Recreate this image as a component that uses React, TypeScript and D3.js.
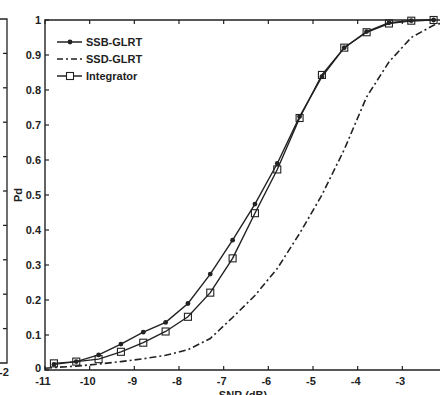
import React, { useRef, useEffect } from 'react';
import * as d3 from 'd3';

// SNR grid (dB) for the simulated points
const snr = [-10.8, -10.3, -9.8, -9.3, -8.8, -8.3, -7.8, -7.3, -6.8, -6.3, -5.8, -5.3, -4.8, -4.3, -3.8, -3.3, -2.8, -2.3];

const ssbGlrt = [0.016, 0.024, 0.043, 0.074, 0.108, 0.136, 0.19, 0.274, 0.371, 0.474, 0.59, 0.724, 0.838, 0.921, 0.967, 0.992, 0.998, 1.0];
const integrator = [0.019, 0.024, 0.031, 0.052, 0.078, 0.11, 0.152, 0.221, 0.319, 0.448, 0.573, 0.72, 0.843, 0.921, 0.965, 0.99, 0.998, 1.0];

const ssdSnr = [-11, -10.8, -10.3, -9.8, -9.3, -8.8, -8.3, -7.8, -7.3, -6.8, -6.3, -5.8, -5.3, -4.8, -4.3, -3.8, -3.3, -2.8, -2.3, -2.0];
const ssdGlrt = [0.005, 0.007, 0.011, 0.017, 0.024, 0.032, 0.042, 0.058, 0.09, 0.15, 0.213, 0.29, 0.39, 0.5, 0.63, 0.78, 0.88, 0.95, 0.985, 0.995];

const xTicks = [-11, -10, -9, -8, -7, -6, -5, -4, -3, -2];
const xLabels = [-11, -10, -9, -8, -7, -6, -5, -4, -3]; // -2 falls outside the crop
const yTicks = [0, 0.1, 0.2, 0.3, 0.4, 0.5, 0.6, 0.7, 0.8, 0.9, 1];
const legendNames = ['SSB-GLRT', 'SSD-GLRT', 'Integrator'];

const FONT = '"Liberation Sans", Arial, sans-serif';

export default function App() {
  const ref = useRef<SVGSVGElement>(null);

  useEffect(() => {
    const svg = d3.select(ref.current);
    svg.selectAll('*').remove();

    const width = 440, height = 395;
    const left = 45, top = 20, bottom = 370, right = 447;

    const x = d3.scaleLinear().domain([-11, -2]).range([left, right]);
    const y = d3.scaleLinear().domain([0, 1]).range([bottom, top]);

    svg.append('rect').attr('width', width).attr('height', height).attr('fill', '#fff');

    // neighbouring plot edge at far left (cropped)
    const yl = d3.scaleLinear().domain([0, 1]).range([363, 19]);
    const lp = svg.append('g').attr('stroke', '#222').attr('stroke-width', 1.3).attr('fill', 'none');
    lp.append('path').attr('d', `M0,${yl(1)}H7V${yl(0)}H0`);
    yTicks.slice(1, -1).forEach(t => {
      lp.append('line').attr('x1', 3).attr('x2', 7).attr('y1', yl(t)).attr('y2', yl(t));
    });
    svg.append('text').attr('x', 4).attr('y', 376).attr('text-anchor', 'middle')
      .attr('font-family', FONT).attr('font-size', 11).attr('font-weight', 'bold').attr('fill', '#222')
      .text('-2');

    // axes frame
    const frame = svg.append('g').attr('stroke', '#222').attr('stroke-width', 1.4).attr('fill', 'none');
    frame.append('path').attr('d', `M${right},${top}H${left}V${bottom}H${right}`);

    // ticks (inward)
    const tk = svg.append('g').attr('stroke', '#222').attr('stroke-width', 1.2);
    xTicks.forEach(t => {
      tk.append('line').attr('x1', x(t)).attr('x2', x(t)).attr('y1', bottom).attr('y2', bottom - 4);
      tk.append('line').attr('x1', x(t)).attr('x2', x(t)).attr('y1', top).attr('y2', top + 4);
    });
    yTicks.forEach(t => {
      tk.append('line').attr('x1', left).attr('x2', left + 4).attr('y1', y(t)).attr('y2', y(t));
    });

    const labels = svg.append('g').attr('font-family', FONT).attr('font-size', 11)
      .attr('font-weight', 'bold').attr('fill', '#222');
    xLabels.forEach(t => {
      labels.append('text').attr('x', x(t) - 2).attr('y', bottom + 15).attr('text-anchor', 'middle')
        .text(String(t));
    });
    yTicks.forEach(t => {
      labels.append('text').attr('x', left - 4).attr('y', y(t) + (t === 0 ? 2 : 4)).attr('text-anchor', 'end')
        .text(t === 0 || t === 1 ? String(t) : t.toFixed(1));
    });

    labels.append('text').attr('x', 243).attr('y', 399).attr('text-anchor', 'middle').text('SNR (dB)');
    labels.append('text').attr('transform', `translate(22,${y(0.5)}) rotate(-90)`)
      .attr('text-anchor', 'middle').text('Pd');

    const line = d3.line<[number, number]>().x(d => x(d[0])).y(d => y(d[1]));

    // SSD-GLRT dash-dot
    svg.append('path')
      .datum(ssdSnr.map((s, i) => [s, ssdGlrt[i]] as [number, number]))
      .attr('fill', 'none').attr('stroke', '#222').attr('stroke-width', 1.6)
      .attr('stroke-dasharray', '7,3,2,3')
      .attr('d', line);

    // Integrator
    const intPts = snr.map((s, i) => [s, integrator[i]] as [number, number]);
    svg.append('path').datum(intPts)
      .attr('fill', 'none').attr('stroke', '#222').attr('stroke-width', 1.4).attr('d', line);
    svg.append('g').selectAll('rect').data(intPts).join('rect')
      .attr('x', d => x(d[0]) - 3.5).attr('y', d => y(d[1]) - 3.5)
      .attr('width', 7).attr('height', 7)
      .attr('fill', 'none').attr('stroke', '#222').attr('stroke-width', 1.1);

    // SSB-GLRT
    const ssbPts = snr.map((s, i) => [s, ssbGlrt[i]] as [number, number]);
    svg.append('path').datum(ssbPts)
      .attr('fill', 'none').attr('stroke', '#222').attr('stroke-width', 1.4).attr('d', line);
    svg.append('g').selectAll('circle').data(ssbPts).join('circle')
      .attr('cx', d => x(d[0])).attr('cy', d => y(d[1])).attr('r', 2.4).attr('fill', '#222');

    // legend
    const lg = svg.append('g');
    const rows = [42, 59, 76];
    legendNames.forEach((name, i) => {
      const ly = rows[i];
      lg.append('line').attr('x1', 57).attr('x2', 82).attr('y1', ly).attr('y2', ly)
        .attr('stroke', '#222').attr('stroke-width', 1.5)
        .attr('stroke-dasharray', i === 1 ? '6,3,2,3' : null);
      if (i === 0) lg.append('circle').attr('cx', 70).attr('cy', ly).attr('r', 2.4).attr('fill', '#222');
      if (i === 2) lg.append('rect').attr('x', 66.5).attr('y', ly - 3.5).attr('width', 7).attr('height', 7)
        .attr('fill', '#fff').attr('stroke', '#222').attr('stroke-width', 1.1);
      lg.append('text').attr('x', 86).attr('y', ly + 4)
        .attr('font-family', FONT).attr('font-size', 11).attr('font-weight', 'bold').attr('fill', '#222')
        .text(name);
    });
  }, []);

  return (
    <svg ref={ref} width={440} height={395}
      style={{ position: 'absolute', left: 0, top: 0, display: 'block' }} />
  );
}
